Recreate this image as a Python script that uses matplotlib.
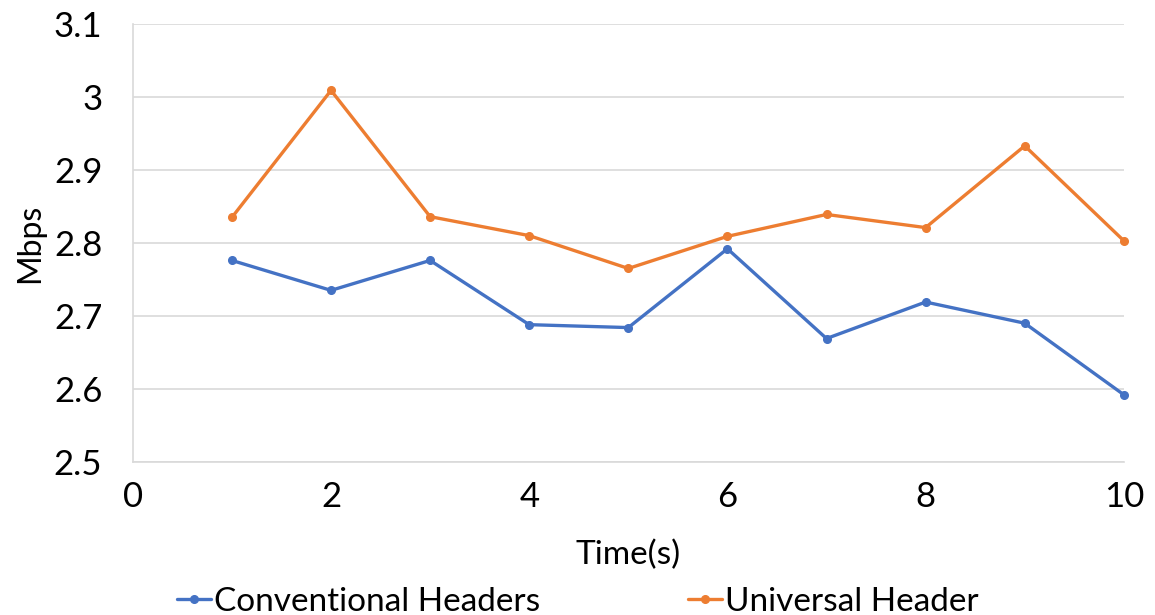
import matplotlib
matplotlib.use("Agg")
import matplotlib.pyplot as plt
from matplotlib.ticker import FixedLocator

# Throughput per second for the two header schemes
time_s = [1, 2, 3, 4, 5, 6, 7, 8, 9, 10]
conventional = [2.776, 2.735, 2.776, 2.688, 2.684, 2.792, 2.669, 2.719, 2.690, 2.592]
universal = [2.835, 3.009, 2.836, 2.810, 2.765, 2.809, 2.839, 2.821, 2.933, 2.803]

x_ticks = [0, 2, 4, 6, 8, 10]
y_ticks = [2.5, 2.6, 2.7, 2.8, 2.9, 3.0, 3.1]
y_tick_labels = ["2.5", "2.6", "2.7", "2.8", "2.9", "3", "3.1"]

plt.rcParams["font.family"] = ["Lato", "DejaVu Sans"]

fig = plt.figure(figsize=(11.55, 6.15), dpi=100)
ax = fig.add_axes([0.115, 0.249, 0.858, 0.712])

blue = "#4472C4"
orange = "#ED7D31"
ax.plot(time_s, conventional, color=blue, lw=2.4, marker="o", ms=5.5,
        label="Conventional Headers", solid_capstyle="round", clip_on=False)
ax.plot(time_s, universal, color=orange, lw=2.4, marker="o", ms=5.5,
        label="Universal Header", solid_capstyle="round", clip_on=False)

ax.set_xlim(0, 10)
ax.set_ylim(2.5, 3.1)
ax.xaxis.set_major_locator(FixedLocator(x_ticks))
ax.set_yticks(y_ticks)
ax.set_yticklabels(y_tick_labels)
ax.tick_params(axis="both", length=0, labelsize=25, colors="black")
ax.tick_params(axis="x", pad=14)
ax.tick_params(axis="y", pad=22)

ax.grid(axis="y", color="#d9d9d9", lw=1.2)
ax.set_axisbelow(True)
for side in ["top", "right"]:
    ax.spines[side].set_visible(False)
for side in ["left", "bottom"]:
    ax.spines[side].set_color("#d9d9d9")
    ax.spines[side].set_linewidth(1.2)

ax.set_xlabel("Time(s)", fontsize=24, labelpad=19)
ax.set_ylabel("Mbps", fontsize=23, labelpad=6)

fig.legend(loc="lower center", bbox_to_anchor=(0.5005, -0.052), ncol=2, frameon=False,
           fontsize=24, handlelength=1.0, handletextpad=0.1, columnspacing=4.45)

fig.savefig("out.png", dpi=100, facecolor="white")
